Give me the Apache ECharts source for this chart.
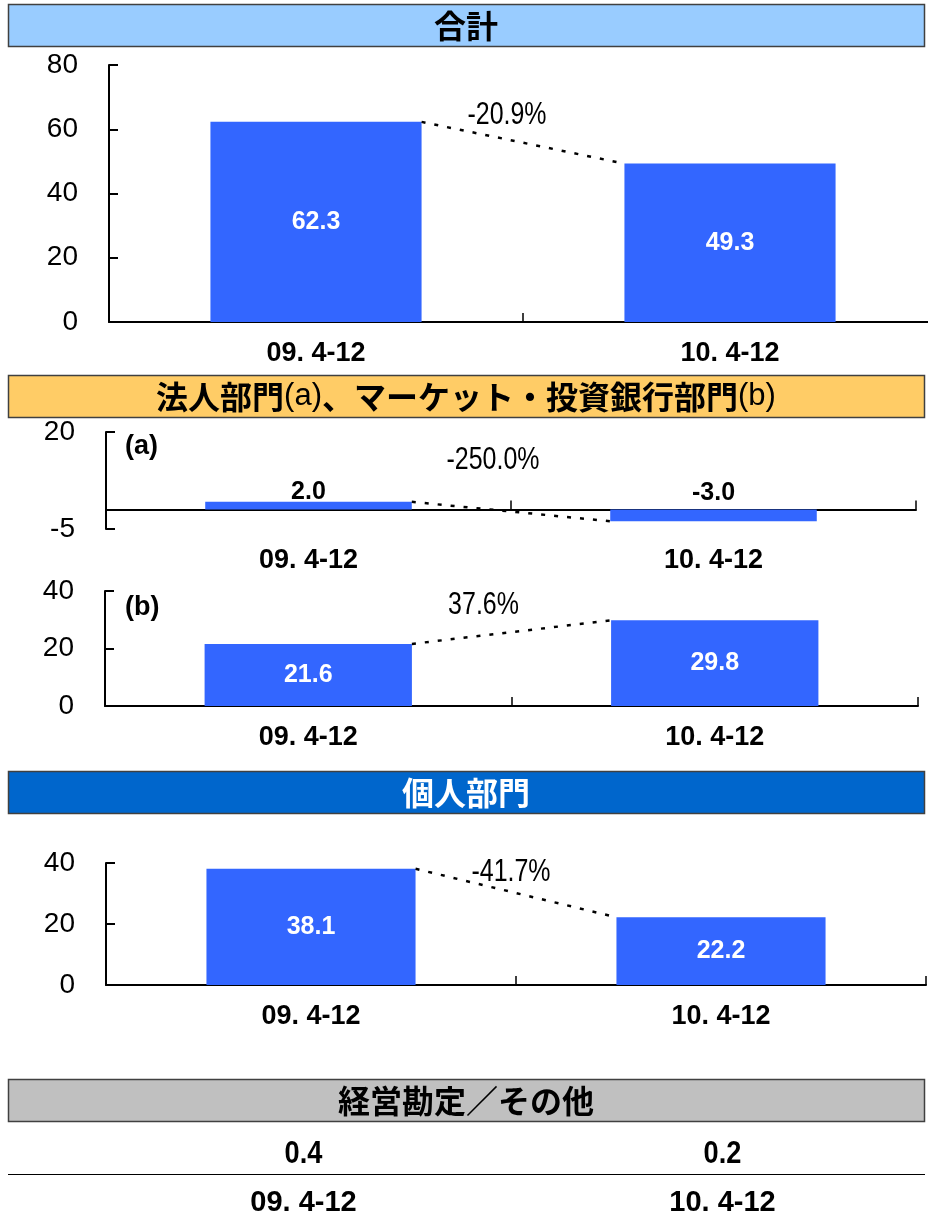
<!DOCTYPE html>
<html>
<head>
<meta charset="utf-8">
<script src="https://cdn.jsdelivr.net/npm/echarts@6/dist/echarts.min.js"></script>
<style>
  html, body { margin: 0; padding: 0; background: #fff; }
  #main { width: 928px; height: 1219px; }
</style>
</head>
<body>
<div id="main"></div>
<script>
// ---- data ----
const categories = ['09. 4-12', '10. 4-12'];
const totalValues = [62.3, 49.3];        // 合計
const corporateValues = [2.0, -3.0];     // 法人部門 (a)
const marketsValues = [21.6, 29.8];      // マーケット・投資銀行部門 (b)
const retailValues = [38.1, 22.2];       // 個人部門
const otherValues = [0.4, 0.2];          // 経営勘定／その他
const changePct = [-20.9, -250.0, 37.6, -41.7];
const totalTicks = [0, 20, 40, 60, 80];
const corporateTicks = [-5, 20];
const marketsTicks = [0, 20, 40];
const retailTicks = [0, 20, 40];
const headerTitles = ['合計', null, '個人部門', '経営勘定／その他'];

// ---- styling ----
const BAR_COLOR = '#3366FF';
const BAR_RATIO = 0.51;
const SANS = "'Liberation Sans', Arial, sans-serif";
const CJK = "'Noto Sans CJK JP', 'Noto Sans CJK SC', sans-serif";

const panels = [
  { values: totalValues, pct: changePct[0], ticks: totalTicks, min: 0, max: 80,
    grid: { left: 109, top: 65, width: 828, height: 257 }, pctOffset: [-16, -28], outsideLabels: false },
  { values: corporateValues, pct: changePct[1], ticks: corporateTicks, min: -5, max: 20,
    grid: { left: 106, top: 432, width: 810, height: 97 }, pctOffset: [-18, -51], outsideLabels: true },
  { values: marketsValues, pct: changePct[2], ticks: marketsTicks, min: 0, max: 40,
    grid: { left: 105, top: 591, width: 813, height: 115 }, pctOffset: [-28, -27], outsideLabels: false },
  { values: retailValues, pct: changePct[3], ticks: retailTicks, min: 0, max: 40,
    grid: { left: 106, top: 863, width: 820, height: 122 }, pctOffset: [-5, -21], outsideLabels: false }
];

// dotted connector between the two bar ends plus the change label
function makeConnector(offset) {
  return function (params, api) {
    const p0 = api.coord([api.value(0), api.value(1)]);
    const p1 = api.coord([api.value(2), api.value(3)]);
    const half = api.size([1, 0])[0] * BAR_RATIO / 2;
    const x0 = p0[0] + half, x1 = p1[0] - half;
    const pct = api.value(4);
    return {
      type: 'group',
      children: [
        { type: 'line', shape: { x1: x0, y1: p0[1], x2: x1, y2: p1[1] },
          style: { stroke: '#000', lineWidth: 2.5, lineDash: [4, 9] } },
        { type: 'text', x: (x0 + x1) / 2 + offset[0], y: (p0[1] + p1[1]) / 2 + offset[1],
          scaleX: 0.78,
          style: { text: pct.toFixed(1) + '%', fill: '#000', font: '32px ' + SANS,
                   align: 'center', verticalAlign: 'middle' } }
      ]
    };
  };
}

const grids = [], xAxes = [], yAxes = [], series = [];

panels.forEach(function (p, i) {
  grids.push(Object.assign({ containLabel: false, outerBoundsMode: 'none' }, p.grid));
  xAxes.push({
    gridIndex: i, type: 'category', data: categories,
    axisLine: { show: true, onZero: true, lineStyle: { color: '#000', width: 2 } },
    axisTick: { show: true, inside: true, length: 9, lineStyle: { color: '#000', width: 1.5 } },
    axisLabel: { color: '#000', fontFamily: SANS, fontWeight: 'bold', fontSize: 27, margin: 18 },
    splitLine: { show: false }
  });
  yAxes.push({
    gridIndex: i, type: 'value', min: p.min, max: p.max,
    axisLine: { show: true, lineStyle: { color: '#000', width: 2 } },
    axisTick: { show: true, inside: true, length: 9, customValues: p.ticks,
                lineStyle: { color: '#000', width: 2 } },
    axisLabel: { customValues: p.ticks, margin: 31, color: '#000', fontFamily: SANS, fontSize: 28 },
    splitLine: { show: false }
  });
  const barData = p.values.map(function (v) {
    if (!p.outsideLabels) return v;
    return v >= 0
      ? { value: v, label: { position: 'top', distance: 0, offset: [0, 3] } }
      : { value: v, label: { position: 'top', distance: 4 } };
  });
  series.push({
    type: 'bar', xAxisIndex: i, yAxisIndex: i, data: barData, barWidth: (BAR_RATIO * 100) + '%',
    itemStyle: { color: BAR_COLOR },
    label: p.outsideLabels
      ? { show: true, color: '#000', fontFamily: SANS, fontWeight: 'bold', fontSize: 25,
          formatter: function (d) { return d.value.toFixed(1); } }
      : { show: true, position: 'inside', color: '#fff', fontFamily: SANS, fontWeight: 'bold', fontSize: 25,
          formatter: function (d) { return d.value.toFixed(1); } },
    z: 2
  });
  series.push({
    type: 'custom', xAxisIndex: i, yAxisIndex: i,
    data: [[0, p.values[0], 1, p.values[1], p.pct]],
    encode: { x: [0, 2], y: [1, 3] },
    renderItem: makeConnector(p.pctOffset), z: 5, silent: true
  });
});

// 経営勘定／その他: value row above the category row
grids.push({ left: 94, top: 1135, width: 838, height: 39, outerBoundsMode: 'none' });
xAxes.push({
  gridIndex: 4, type: 'category', data: categories,
  axisLine: { show: false }, axisTick: { show: false },
  axisLabel: { color: '#000', fontFamily: SANS, fontWeight: 'bold', fontSize: 29, margin: 14 }
});
yAxes.push({ gridIndex: 4, type: 'value', min: 0, max: 1, show: false });
series.push({
  type: 'custom', xAxisIndex: 4, yAxisIndex: 4,
  data: otherValues.map(function (v, i) { return [i, 0.5, v]; }),
  encode: { x: 0, y: 1 },
  renderItem: function (params, api) {
    const p = api.coord([api.value(0), api.value(1)]);
    return {
      type: 'text', x: p[0], y: p[1], scaleX: 0.85,
      style: { text: api.value(2).toFixed(1), fill: '#000', font: 'bold 32px ' + SANS,
               align: 'center', verticalAlign: 'middle' }
    };
  },
  silent: true
});

// section header bars
function header(y, fill, content, textColor, rich) {
  const els = [{
    type: 'rect', shape: { x: 8.5, y: y, width: 916, height: 42 },
    style: { fill: fill, stroke: '#404040', lineWidth: 1.5 }, z: 1
  }];
  const style = { text: content, x: 0, y: 0, fill: textColor, font: 'bold 32px ' + CJK,
                  align: 'center', verticalAlign: 'middle' };
  if (rich) style.rich = rich;
  els.push({ type: 'text', x: 466, y: y + 21, style: style, z: 2 });
  return els;
}

const headerRich = {
  b: { fontFamily: CJK, fontWeight: 'bold', fontSize: 32, fill: '#000' },
  n: { fontFamily: SANS, fontWeight: 'normal', fontSize: 31, fill: '#000' }
};

const graphics = [].concat(
  header(4.5, '#99CCFF', headerTitles[0], '#000'),
  header(375.5, '#FFCC66', '{b|法人部門}{n|(a)}{b|、マーケット・投資銀行部門}{n|(b)}', '#000', headerRich),
  header(771.5, '#0066CC', headerTitles[2], '#fff'),
  header(1079.5, '#C0C0C0', headerTitles[3], '#000'),
  [
    { type: 'text', x: 125, y: 447, style: { text: '(a)', fill: '#000', font: 'bold 27px ' + SANS, verticalAlign: 'middle' } },
    { type: 'text', x: 125, y: 608, style: { text: '(b)', fill: '#000', font: 'bold 27px ' + SANS, verticalAlign: 'middle' } },
    { type: 'line', shape: { x1: 8, y1: 1174.5, x2: 925, y2: 1174.5 }, style: { stroke: '#000', lineWidth: 1.2 } }
  ]
);

const chart = echarts.init(document.getElementById('main'), null, { renderer: 'canvas' });
chart.setOption({
  animation: false,
  backgroundColor: '#fff',
  grid: grids,
  xAxis: xAxes,
  yAxis: yAxes,
  series: series,
  graphic: { elements: graphics }
});
</script>
</body>
</html>
